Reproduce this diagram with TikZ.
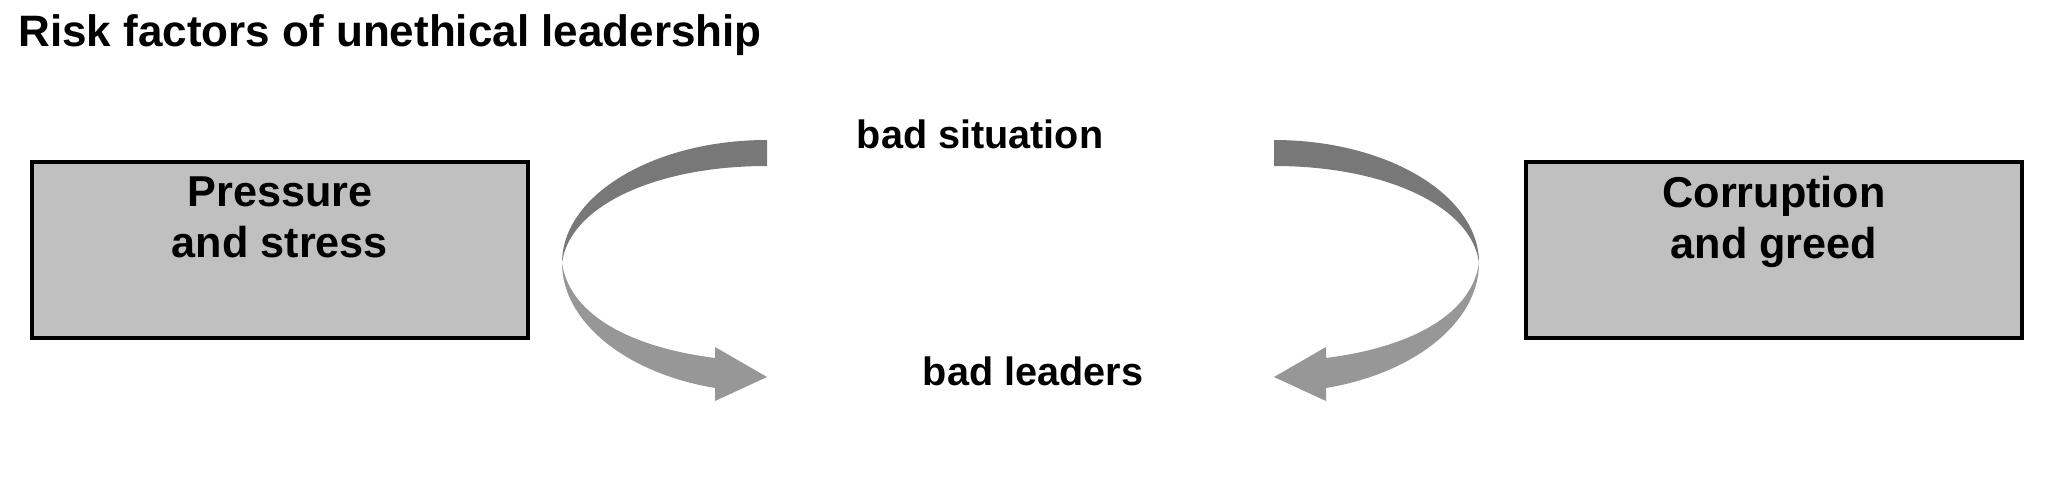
\documentclass[tikz,border=0pt]{standalone}
\usepackage{fontspec}
\setmainfont{Liberation Sans}
\definecolor{boxgray}{HTML}{C0C0C0}
\definecolor{darkband}{HTML}{787878}
\definecolor{lightband}{HTML}{979797}
\begin{document}
\begin{tikzpicture}[x=0.5pt,y=-0.5pt,
  box/.style={draw=black, line width=2pt, fill=boxgray, minimum width=248pt, minimum height=88pt, inner sep=0},
  boxtext/.style={font=\bfseries\fontsize{21.6}{25.5}\selectfont, align=center, inner sep=0, anchor=north},
  flowlabel/.style={font=\bfseries\fontsize{19.8}{24}\selectfont, inner sep=0, anchor=base},
  titletext/.style={font=\bfseries\fontsize{22}{26}\selectfont, inner sep=0, anchor=base west},
  upperband/.style={fill=darkband, draw=none},
  lowerband/.style={fill=lightband, draw=none}]
\useasboundingbox (0,0) rectangle (2050,486);
\fill[white] (0,0) rectangle (2050,486);

% title
\node[titletext] (title) at (18,47) {Risk factors of unethical leadership};

% boxes
\node[box] (pbox) at (280,250) {};
\node[box] (cbox) at (1774,250) {};
\node[boxtext] (ptext) at (280,176) {Pressure\\and stress};
\node[boxtext] (ctext) at (1774,176) {Corruption\\and greed};

% labels
\node[flowlabel] (sit) at (980,149) {bad situation};
\node[flowlabel] (lead) at (1033,385) {bad leaders};

% left curved arrow
\fill[upperband] (767,140) .. controls (654,140) and (562,195) .. (562,263)
  .. controls (569,207) and (654,166) .. (767,166) -- cycle;
\fill[lowerband] (562,263) .. controls (562,321) and (625,373) .. (715,388)
  -- (715,401) -- (767,377) -- (715,347) -- (715,358)
  .. controls (625,346.5) and (569,312) .. (562,263) -- cycle;

% right curved arrow (mirror)
\fill[upperband] (1274,140) .. controls (1387,140) and (1479,195) .. (1479,263)
  .. controls (1472,207) and (1387,166) .. (1274,166) -- cycle;
\fill[lowerband] (1479,263) .. controls (1479,321) and (1416,373) .. (1326,388)
  -- (1326,401) -- (1274,377) -- (1326,347) -- (1326,358)
  .. controls (1416,346.5) and (1472,312) .. (1479,263) -- cycle;
\end{tikzpicture}
\end{document}
